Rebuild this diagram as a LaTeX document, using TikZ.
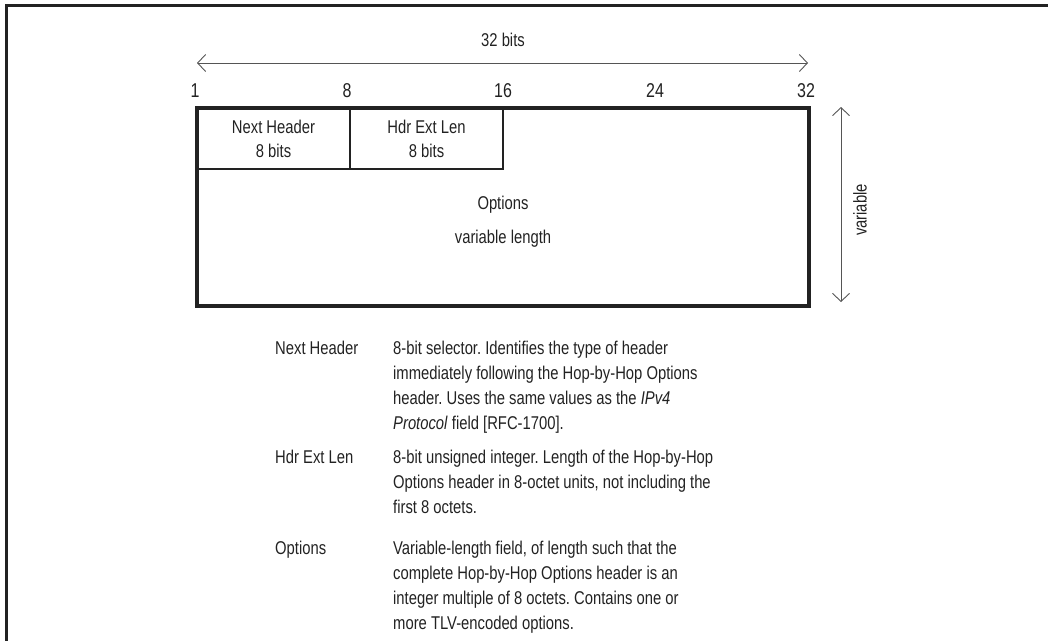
\documentclass[tikz,border=0pt]{standalone}
\usepackage{fontspec}
\setmainfont{Liberation Sans}[FakeStretch=0.8]
\usepackage{xcolor}
\usetikzlibrary{positioning,arrows.meta}
\definecolor{ink}{HTML}{222222}
\definecolor{dimline}{HTML}{555555}
\frenchspacing

\begin{document}
\begin{tikzpicture}[x=1pt,y=-1pt,
    txt/.style={font=\fontsize{18.5}{25}\selectfont,text=ink,inner sep=0pt},
    cell/.style={draw=ink,line width=1.1pt,minimum width=153pt,minimum height=61pt,
                 inner sep=0pt,align=center,font=\fontsize{18.5}{24}\selectfont,text=ink},
    hdrbox/.style={draw=ink,line width=3.2pt,minimum width=612pt,minimum height=198pt,inner sep=0pt},
    dim/.style={{Straight Barb[length=8pt,width=17pt]}-{Straight Barb[length=8pt,width=17pt]},
                draw=dimline,line width=0.9pt},
    desc/.style={txt,align=left,anchor=north west}
  ]
  \useasboundingbox (0,0) rectangle (1048,641);
  \draw[ink,line width=3pt] (1048,5) -- (6,5) -- (6,641);

  % Bit ruler
  \node[txt] (bitslbl) at (503,40) {32 bits};
  \coordinate (bitsl) at (197,63);
  \coordinate (bitsr) at (808,63);
  \draw[dim] (bitsl) -- (bitsr);
  \foreach \pos/\bit in {195/1,347/8,503/16,655/24,806/32}
    \node[txt,font=\fontsize{20}{22}\selectfont] (bit\bit) at (\pos,91) {\bit};

  % Header layout
  \node[cell] (nexthdr) at (273.5,138.5) {Next Header\\8 bits};
  \node[cell] (extlen) at (426.5,138.5) {Hdr Ext Len\\8 bits};
  \node[hdrbox] (hdr) at (503,207) {};
  \node[txt,align=center] (opts) at (503,222) {Options\\[9pt]variable length};

  % Height
  \coordinate (vart) at (841,107);
  \coordinate (varb) at (841,302);
  \draw[dim] (vart) -- (varb);
  \node[txt,rotate=90] (varlbl) at (860,210) {variable};

  % Field descriptions
  \node[desc] (nhdesc) at (393,341) {8-bit selector. Identifies the type of header\\
    immediately following the Hop-by-Hop Options\\
    header. Uses the same values as the \textit{IPv4}\\
    \textit{Protocol} field [RFC-1700].};
  \node[txt,anchor=north west] (nhlbl) at (275,341) {Next Header};

  \node[desc] (eldesc) at (393,450) {8-bit unsigned integer. Length of the Hop-by-Hop\\
    Options header in 8-octet units, not including the\\
    first 8 octets.};
  \node[txt,anchor=north west] (ellbl) at (275,450) {Hdr Ext Len};

  \node[desc] (opdesc) at (393,541) {Variable-length field, of length such that the\\
    complete Hop-by-Hop Options header is an\\
    integer multiple of 8 octets. Contains one or\\
    more TLV-encoded options.};
  \node[txt,anchor=north west] (oplbl) at (275,541) {Options};
\end{tikzpicture}
\end{document}
